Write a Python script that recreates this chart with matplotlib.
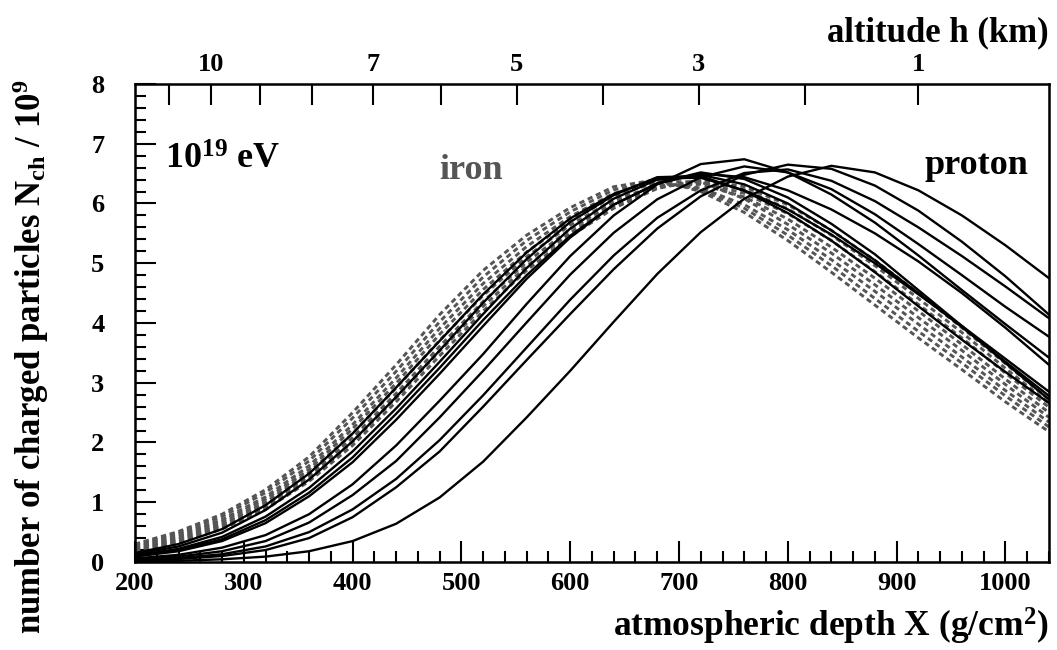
import matplotlib
matplotlib.use("Agg")
import matplotlib.pyplot as plt
from matplotlib.ticker import MultipleLocator

plt.rcParams["font.family"] = ["Liberation Serif", "DejaVu Serif"]
plt.rcParams["font.weight"] = "bold"
plt.rcParams["mathtext.fontset"] = "custom"
plt.rcParams["mathtext.rm"] = "Liberation Serif:bold"
plt.rcParams["mathtext.bf"] = "Liberation Serif:bold"
plt.rcParams["mathtext.it"] = "Liberation Serif:bold:italic"

# atmospheric depth grid (g/cm^2)
depth = [200, 240, 280, 320, 360, 400, 440, 480, 520, 560, 600,
         640, 680, 720, 760, 800, 840, 880, 920, 960, 1000, 1040]

# proton showers, N_ch / 1e9
proton_1 = [0.13, 0.26, 0.49, 0.87, 1.38, 2.02, 2.76, 3.54, 4.34, 5.07, 5.69,
            6.14, 6.44, 6.46, 6.21, 5.84, 5.38, 4.85, 4.28, 3.72, 3.18, 2.66]
proton_2 = [0.09, 0.18, 0.35, 0.65, 1.10, 1.67, 2.38, 3.15, 3.95, 4.74, 5.43,
            5.98, 6.34, 6.52, 6.41, 6.10, 5.66, 5.15, 4.55, 3.95, 3.33, 2.72]
proton_3 = [0.11, 0.22, 0.42, 0.76, 1.24, 1.85, 2.57, 3.35, 4.15, 4.92, 5.58,
            6.08, 6.40, 6.48, 6.32, 6.00, 5.55, 5.05, 4.50, 3.93, 3.35, 2.78]
proton_4 = [0.15, 0.30, 0.55, 0.95, 1.48, 2.15, 2.92, 3.70, 4.48, 5.18, 5.75,
            6.16, 6.42, 6.43, 6.22, 5.90, 5.48, 5.00, 4.48, 3.95, 3.40, 2.85]
proton_5 = [0.10, 0.20, 0.38, 0.70, 1.16, 1.75, 2.48, 3.25, 4.05, 4.80, 5.46,
            5.98, 6.33, 6.50, 6.44, 6.22, 5.90, 5.50, 5.03, 4.50, 3.92, 3.30]
proton_6 = [0.06, 0.12, 0.24, 0.45, 0.80, 1.30, 1.95, 2.70, 3.48, 4.32, 5.12,
            5.80, 6.32, 6.66, 6.74, 6.52, 6.15, 5.68, 5.13, 4.55, 3.98, 3.42]
proton_7 = [0.045, 0.09, 0.18, 0.35, 0.66, 1.12, 1.69, 2.42, 3.20, 4.01, 4.81,
            5.51, 6.07, 6.44, 6.62, 6.52, 6.24, 5.82, 5.32, 4.80, 4.27, 3.77]
proton_8 = [0.03, 0.066, 0.13, 0.26, 0.50, 0.88, 1.39, 2.04, 2.79, 3.59, 4.39,
            5.13, 5.76, 6.22, 6.51, 6.57, 6.38, 6.04, 5.60, 5.12, 4.61, 4.08]
proton_9 = [0.02, 0.05, 0.10, 0.20, 0.40, 0.75, 1.25, 1.85, 2.60, 3.38, 4.15,
            4.90, 5.58, 6.12, 6.48, 6.65, 6.58, 6.30, 5.88, 5.36, 4.78, 4.14]
proton_10 = [0.01, 0.02, 0.045, 0.09, 0.18, 0.35, 0.64, 1.08, 1.68, 2.42, 3.20,
             4.02, 4.82, 5.52, 6.08, 6.45, 6.63, 6.52, 6.22, 5.80, 5.30, 4.75]

# iron showers, N_ch / 1e9
iron_1 = [0.30, 0.51, 0.80, 1.21, 1.76, 2.50, 3.30, 4.14, 4.88, 5.47, 5.93,
          6.28, 6.40, 6.20, 5.85, 5.38, 4.85, 4.30, 3.75, 3.22, 2.68, 2.18]
iron_2 = [0.28, 0.48, 0.76, 1.16, 1.69, 2.41, 3.19, 4.02, 4.77, 5.38, 5.86,
          6.23, 6.37, 6.23, 5.92, 5.47, 4.96, 4.41, 3.86, 3.33, 2.78, 2.26]
iron_3 = [0.26, 0.45, 0.71, 1.09, 1.61, 2.30, 3.08, 3.91, 4.66, 5.28, 5.78,
          6.17, 6.34, 6.26, 5.98, 5.56, 5.06, 4.53, 3.98, 3.43, 2.87, 2.34]
iron_4 = [0.24, 0.42, 0.68, 1.05, 1.55, 2.23, 2.99, 3.81, 4.56, 5.19, 5.71,
          6.12, 6.37, 6.36, 6.08, 5.65, 5.17, 4.64, 4.09, 3.54, 2.97, 2.42]
iron_5 = [0.22, 0.39, 0.64, 1.00, 1.50, 2.15, 2.91, 3.71, 4.46, 5.11, 5.64,
          6.06, 6.30, 6.32, 6.11, 5.74, 5.27, 4.75, 4.20, 3.64, 3.06, 2.50]
iron_6 = [0.20, 0.37, 0.61, 0.96, 1.44, 2.08, 2.82, 3.61, 4.36, 5.02, 5.57,
          6.01, 6.28, 6.35, 6.17, 5.83, 5.38, 4.86, 4.31, 3.75, 3.16, 2.59]
iron_7 = [0.19, 0.34, 0.58, 0.92, 1.39, 2.01, 2.75, 3.53, 4.28, 4.95, 5.51,
          5.96, 6.27, 6.38, 6.23, 5.91, 5.47, 4.96, 4.41, 3.84, 3.24, 2.66]
iron_8 = [0.17, 0.32, 0.55, 0.88, 1.35, 1.95, 2.68, 3.45, 4.20, 4.88, 5.45,
          5.92, 6.25, 6.40, 6.28, 5.98, 5.55, 5.05, 4.50, 3.92, 3.32, 2.72]

proton_showers = [proton_1, proton_2, proton_3, proton_4, proton_5,
                  proton_6, proton_7, proton_8, proton_9, proton_10]
iron_showers = [iron_1, iron_2, iron_3, iron_4, iron_5, iron_6, iron_7, iron_8]

# altitude scale on top (km -> depth in g/cm^2)
altitude_depth = [231, 270, 315, 363, 419, 481, 551, 630, 718, 816, 920]
altitude_labels = ["", "10", "", "", "7", "", "5", "", "3", "", "1"]

fig = plt.figure(figsize=(10.57, 6.5), dpi=100)
ax = fig.add_axes([0.1277, 0.1354, 0.8647, 0.7354])

for n in iron_showers:
    ax.plot(depth, n, color="#555555", lw=2.1, linestyle=(0, (1.8, 1.3)),
            dash_joinstyle="round")
for n in proton_showers:
    ax.plot(depth, n, color="black", lw=1.7, solid_joinstyle="round")

ax.set_xlim(200, 1040)
ax.set_ylim(0, 8)
ax.xaxis.set_major_locator(MultipleLocator(100))
ax.xaxis.set_minor_locator(MultipleLocator(20))
ax.yaxis.set_major_locator(MultipleLocator(1))
ax.yaxis.set_minor_locator(MultipleLocator(0.2))
ax.tick_params(axis="both", which="both", direction="in", top=False, right=False,
               width=1.5, labelsize=19)
ax.tick_params(axis="both", which="major", length=15)
ax.tick_params(axis="both", which="minor", length=8)
ax.tick_params(axis="x", pad=7)
ax.tick_params(axis="y", pad=22)
for lab in ax.get_xticklabels() + ax.get_yticklabels():
    lab.set_fontweight("bold")
for sp in ax.spines.values():
    sp.set_linewidth(1.8)

top = ax.twiny()
top.set_xlim(ax.get_xlim())
top.set_xticks(altitude_depth)
top.set_xticklabels(altitude_labels, fontsize=19, fontweight="bold")
top.tick_params(axis="x", direction="in", length=15, width=1.5, pad=6)
top.xaxis.set_minor_locator(plt.NullLocator())

ax.set_xlabel(r"atmospheric depth X (g/cm$^{2}$)", fontsize=25.5, fontweight="bold",
              loc="right", labelpad=8)
ax.set_ylabel(r"number of charged particles N$_{\mathrm{ch}}$ / 10$^{9}$",
              fontsize=25, fontweight="bold")
ax.yaxis.set_label_coords(-0.092, 0.43)
top.set_xlabel("altitude h (km)", fontsize=25, fontweight="bold", loc="right", labelpad=8)

ax.text(0.033, 0.84, r"10$^{19}$ eV", transform=ax.transAxes, fontsize=26,
        fontweight="bold", va="center", ha="left")
ax.text(0.333, 0.82, "iron", transform=ax.transAxes, fontsize=26,
        fontweight="bold", color="#555555", va="center", ha="left")
ax.text(0.977, 0.83, "proton", transform=ax.transAxes, fontsize=26,
        fontweight="bold", va="center", ha="right")

fig.savefig("out.png", dpi=100)
